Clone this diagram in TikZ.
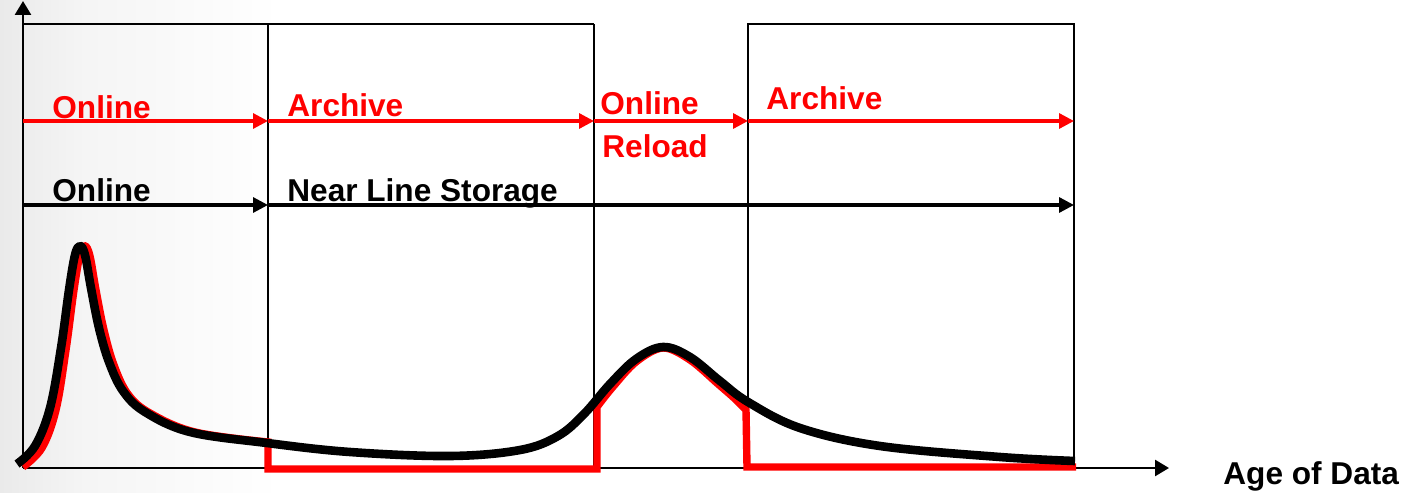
\documentclass[tikz,border=0pt]{standalone}
\usepackage{fontspec}
\setmainfont{Liberation Sans}
\usetikzlibrary{arrows.meta}
\pgfdeclarehorizontalshading{bgshade}{100bp}{color(0bp)=(black!28); color(6bp)=(black!19); color(15bp)=(black!11); color(40bp)=(black!4); color(75bp)=(white); color(100bp)=(white)}
\tikzset{
  lbl/.style={font=\fontsize{15.8}{18}\selectfont\bfseries, inner sep=0pt, anchor=base west},
  frame/.style={line width=1.25pt, black},
  axis/.style={line width=1.3pt, black, -{Triangle[length=7pt,width=8pt]}},
  redarrow/.style={line width=1.6pt, red, -{Triangle[length=7.5pt,width=7.5pt]}},
  blkarrow/.style={line width=1.6pt, black, -{Triangle[length=7.5pt,width=7.5pt]}},
  blkcurve/.style={line width=4.3pt, black, line join=round},
  redcurve/.style={line width=3.7pt, red, line join=miter},
}
\begin{document}
\begin{tikzpicture}[x=0.5pt, y=-0.5pt]
\useasboundingbox (0,0) rectangle (1411,492);
\fill[white] (0,0) rectangle (1411,492);
\fill[shading=bgshade] (0,0) rectangle (280,492);

% coordinates
\coordinate (o) at (23,468);
\coordinate (ytop) at (23,1);
\coordinate (xend) at (1169,468);
\coordinate (tl) at (23,24);
\coordinate (b1t) at (268,24);  \coordinate (b1b) at (268,468);
\coordinate (b2t) at (594,24);  \coordinate (b2b) at (594,468);
\coordinate (b3t) at (748,24);  \coordinate (b3b) at (748,468);
\coordinate (b4t) at (1074,24); \coordinate (b4b) at (1074,462);

\coordinate (r0) at (23,121); \coordinate (r1) at (268,121);
\coordinate (r2) at (594,121); \coordinate (r3) at (748,121);
\coordinate (r4) at (1074,121);
\coordinate (k0) at (23,205); \coordinate (k1) at (268,205);
\coordinate (k4) at (1074,205);

% frame
\draw[frame] (tl) -- (b2t);
\draw[frame] (b1t) -- (b1b);
\draw[frame] (b2t) -- (b2b);
\draw[frame] (b3b) -- (b3t) -- (b4t) -- (b4b);

% axes
\draw[axis] (o) -- (ytop);
\draw[axis] (o) -- (xend);

% arrows
\draw[redarrow] (r0) -- (r1);
\draw[redarrow] (r1) -- (r2);
\draw[redarrow] (r2) -- (r3);
\draw[redarrow] (r3) -- (r4);
\draw[blkarrow] (k0) -- (k1);
\draw[blkarrow] (k1) -- (k4);

% labels
\node[lbl, red] (ton) at (52,119) {Online};
\node[lbl, red] (tar1) at (287,117) {Archive};
\node[lbl, red] (ton2) at (600,114) {Online};
\node[lbl, red] (trel) at (602,157) {Reload};
\node[lbl, red] (tar2) at (766,110) {Archive};
\node[lbl] (konl) at (52,201) {Online};
\node[lbl] (knls) at (287,201) {Near Line Storage};
\node[lbl] (age) at (1223,484) {Age of Data};

% red curve
\draw[redcurve] plot[smooth, tension=0.6] coordinates {(23,467) (42,448) (56,410) (66,350) (74,290) (80,255) (85,246) (90,256) (96,290) (104,330) (114,365) (128,394) (150,413) (195,432) (268,442)}
  -- (268,469) -- (597,469) -- (597,407)
  -- plot[smooth, tension=0.55] coordinates {(597,407) (612,388) (636,362) (663,348) (690,360) (718,384) (734,398) (746,410)}
  -- (747,467) -- (1076,467);

% black curve
\draw[blkcurve] plot[smooth, tension=0.6] coordinates {(17,464) (35,446) (50,408) (61,348) (69,290) (75,255) (80,246) (85,255) (91,288) (99,328) (109,362) (123,391) (145,412) (190,432) (267,443) (350,452) (450,456) (520,450) (558,436) (584,414) (610,384) (636,359) (663,347) (690,357) (720,381) (748,402) (800,428) (880,446) (1000,457) (1075,461)};
\end{tikzpicture}
\end{document}
